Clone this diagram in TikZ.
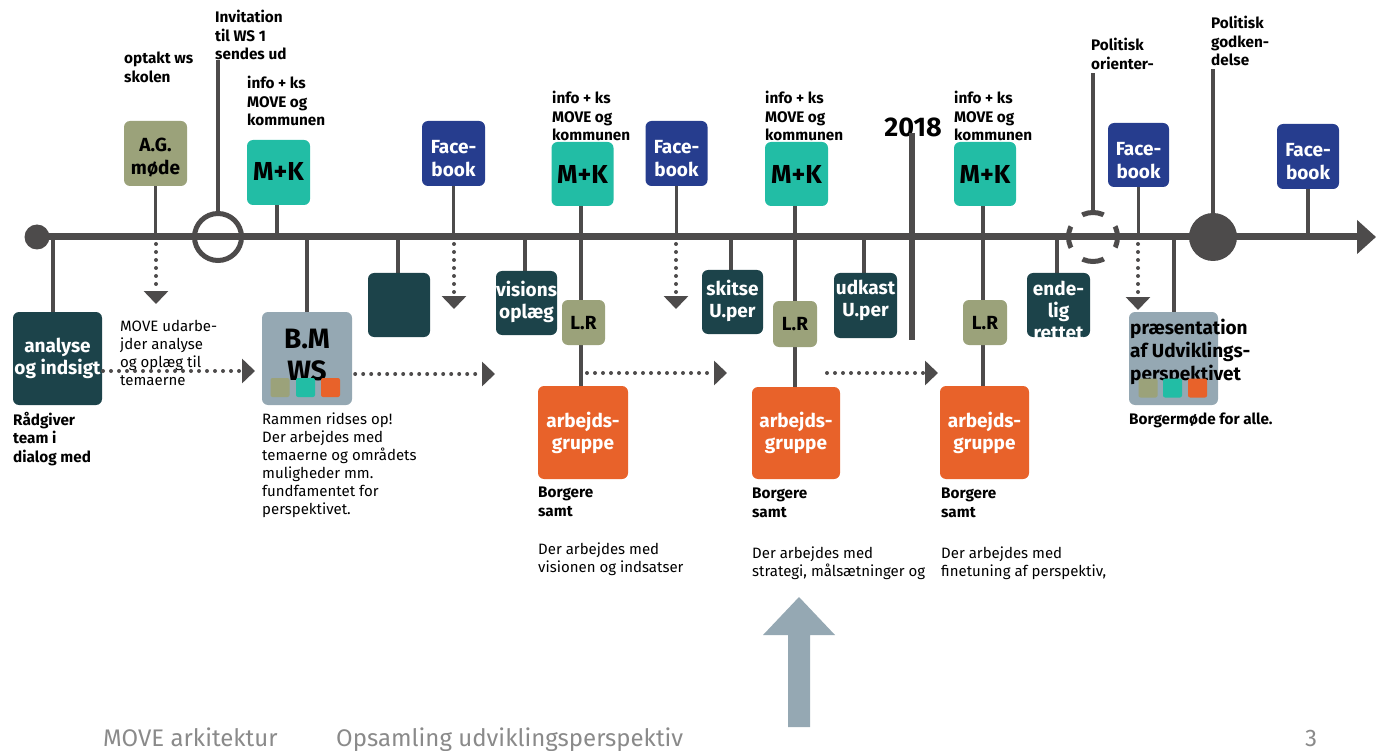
\documentclass[tikz,border=0pt]{standalone}
\usepackage{fontspec}
\setmainfont{Fira Sans}
\usetikzlibrary{arrows.meta}
\definecolor{lg}{HTML}{4D4B4B}
\definecolor{dteal}{HTML}{1C434A}
\definecolor{olive}{HTML}{9BA27A}
\definecolor{mteal}{HTML}{22BDA5}
\definecolor{navy}{HTML}{263D8E}
\definecolor{orng}{HTML}{E8622A}
\definecolor{gblue}{HTML}{95A8B3}
\definecolor{foot}{HTML}{8A8A8A}
\newcommand\myfs[2]{\fontsize{#1pt}{#2pt}\selectfont}
\pgfdeclarelayer{bg}
\pgfsetlayers{bg,main}
\begin{document}
\begin{tikzpicture}[x=1pt,y=-1pt,
  bx/.style 2 args={minimum width=#1pt, minimum height=#2pt, inner sep=0pt, rounded corners=6pt},
  lbl/.style={align=center, inner sep=0pt},
  txt/.style={anchor=north west, align=left, inner sep=0pt},
  conn/.style={draw=lg, line width=3.5pt},
  dotarrow/.style={draw=lg, line width=4pt, line cap=round, dash pattern=on 0pt off 8pt, -{Triangle[length=13pt,width=24pt]}},
  sq/.style={minimum width=19pt, minimum height=19pt, inner sep=0pt, rounded corners=2pt},
  small/.style={font=\myfs{15.3}{18.5}\bfseries},
  smallr/.style={font=\myfs{15}{18}},
  boxf/.style={font=\myfs{19}{23}\bfseries},
  mkf/.style={font=\myfs{26}{28}\bfseries},
  lrf/.style={font=\myfs{19}{22}\bfseries},
  wgf/.style={font=\myfs{19}{22}\bfseries, text=white},
  footf/.style={anchor=base west, inner sep=0pt, text=foot, font=\myfs{24}{28}}]
\useasboundingbox (0,0) rectangle (1386,751);

% ---- timeline markers
\node[circle, fill=lg, minimum size=25pt, inner sep=0pt] (st) at (37,237) {};
\coordinate (tend) at (1376,237);
\node[circle, draw=lg, line width=5pt, minimum size=47pt, inner sep=0pt] (inv) at (218,237) {};
\node[circle, draw=lg, line width=5pt, minimum size=49pt, inner sep=0pt, dash pattern=on 22pt off 16.5pt, dash phase=11pt] (dc) at (1093,237) {};
\node[circle, fill=lg, minimum size=48pt, inner sep=0pt] (bc) at (1213,237) {};

% ---- top texts
\node[txt, small] (invt) at (215,10) {Invitation\\til WS 1\\sendes ud};
\node[txt, small] (opt) at (124,52) {optakt ws\\skolen};
\node[txt, small] (inf1) at (247,76) {info + ks\\MOVE og\\kommunen};
\node[txt, small] (inf2) at (552,91) {info + ks\\MOVE og\\kommunen};
\node[txt, small] (inf3) at (765,91) {info + ks\\MOVE og\\kommunen};
\node[txt, small] (inf4) at (954,91) {info + ks\\MOVE og\\kommunen};
\node[txt, small] (pol1) at (1091,38) {Politisk\\orienter-};
\node[txt, small] (pol2) at (1211,16) {Politisk\\godken-\\delse};
\node[inner sep=0pt, font=\myfs{27}{30}\bfseries] (yr) at (913,127) {2018};
\coordinate (yrtop) at (912,133);
\coordinate (yrbot) at (912,340);

% ---- top boxes
\node[bx={63}{65}, fill=olive] (ag) at (155.5,153.5) {};
\node[lbl, boxf] (agl) at (155.5,157.5) {A.G.\\møde};
\node[bx={63}{65}, fill=mteal] (mk1) at (278.5,172.5) {};
\node[lbl, mkf] (mk1l) at (278.5,171.5) {M+K};
\node[bx={63}{65}, fill=navy] (fb1) at (453.5,153.5) {};
\node[lbl, boxf, text=white] (fb1l) at (453.5,159) {Face-\\book};
\node[bx={62}{64}, fill=mteal] (mk2) at (582.5,174) {};
\node[lbl, mkf] (mk2l) at (582.5,174.3) {M+K};
\node[bx={62}{65}, fill=navy] (fb2) at (676.5,153.5) {};
\node[lbl, boxf, text=white] (fb2l) at (676.5,159) {Face-\\book};
\node[bx={63}{64}, fill=mteal] (mk3) at (796.5,174) {};
\node[lbl, mkf] (mk3l) at (796.5,174.5) {M+K};
\node[bx={62}{64}, fill=mteal] (mk4) at (985,174) {};
\node[lbl, mkf] (mk4l) at (985,174.5) {M+K};
\node[bx={61}{64}, fill=navy] (fb3) at (1138.5,155) {};
\node[lbl, boxf, text=white] (fb3l) at (1138.5,160.5) {Face-\\book};
\node[bx={62}{65}, fill=navy] (fb4) at (1308,156.5) {};
\node[lbl, boxf, text=white] (fb4l) at (1308,162) {Face-\\book};

% ---- bottom boxes
\node[bx={89}{93}, fill=dteal] (an) at (57.5,358.5) {};
\node[lbl, font=\myfs{19}{22}\bfseries, text=white] (anl) at (57.5,358) {analyse\\og indsigt};
\node[bx={90}{93}, fill=gblue] (bm) at (307,358.5) {};
\node[lbl, font=\myfs{28}{32}\bfseries] (bml) at (307,355) {B.M\\WS};
\node[sq, fill=olive] (bms1) at (280,387.5) {};
\node[sq, fill=mteal] (bms2) at (305.5,387.5) {};
\node[sq, fill=orng] (bms3) at (330.5,387.5) {};
\node[bx={62}{64}, fill=dteal] (em) at (399,305) {};
\node[bx={61}{64}, fill=dteal] (vi) at (526.5,303) {};
\node[lbl, font=\myfs{19}{22}\bfseries, text=white] (vil) at (526.5,302) {visions\\oplæg};
\node[bx={43}{45}, fill=olive] (lr1) at (583.5,322.5) {};
\node[lbl, lrf] (lr1l) at (583.5,323) {L.R};
\node[bx={90}{93}, fill=orng] (wg1) at (583,432.5) {};
\node[lbl, wgf] (wg1l) at (583,432.5) {arbejds-\\gruppe};
\node[bx={61}{64}, fill=dteal] (sk) at (732.5,302) {};
\node[lbl, font=\myfs{19}{22}\bfseries, text=white] (skl) at (732.5,301) {skitse\\U.per};
\node[bx={44}{46}, fill=olive] (lr2) at (795,324) {};
\node[lbl, lrf] (lr2l) at (795,324) {L.R};
\node[bx={88}{92}, fill=orng] (wg2) at (796,433) {};
\node[lbl, wgf] (wg2l) at (796,433) {arbejds-\\gruppe};
\node[bx={63}{65}, fill=dteal] (ud) at (865.5,305.5) {};
\node[lbl, font=\myfs{19}{22}\bfseries, text=white] (udl) at (865.5,300) {udkast\\U.per};
\node[bx={44}{45}, fill=olive] (lr3) at (985,322.5) {};
\node[lbl, lrf] (lr3l) at (985,323) {L.R};
\node[bx={89}{93}, fill=orng] (wg3) at (984.5,432.5) {};
\node[lbl, wgf] (wg3l) at (984.5,432.5) {arbejds-\\gruppe};
\node[bx={63}{64}, fill=dteal] (en) at (1058.5,305) {};
\begin{scope}
  \clip[rounded corners=6pt] (1027,273) rectangle (1090,337);
  \node[lbl, anchor=north, font=\myfs{19}{22}\bfseries, text=white] (enl) at (1058.5,281) {ende-\\lig\\rettet};
\end{scope}
\node[bx={89}{93}, fill=gblue] (pr) at (1173.5,358.5) {};
\node[txt, font=\myfs{19}{23}\bfseries] (prl) at (1130,319) {præsentation\\af Udviklings-\\perspektivet};
\node[sq, fill=olive] (prs1) at (1148,388) {};
\node[sq, fill=mteal] (prs2) at (1172.5,388) {};
\node[sq, fill=orng] (prs3) at (1197.5,388) {};

% ---- bottom texts
\node[txt, smallr] (mud) at (120,320) {MOVE udarbe-\\jder analyse\\og oplæg til\\temaerne};
\node[txt, small] (rad) at (13,412) {Rådgiver\\team i\\dialog med};
\node[txt, smallr] (ram) at (262,413) {Rammen ridses op!\\Der arbejdes med\\temaerne og områdets\\muligheder mm.\\fundfamentet for\\perspektivet.};
\node[txt, small] (b1) at (538,487) {Borgere\\samt};
\node[txt, small] (b2) at (752,488) {Borgere\\samt};
\node[txt, small] (b3) at (941,488) {Borgere\\samt};
\node[txt, smallr] (d1) at (538,543) {Der arbejdes med\\visionen og indsatser};
\node[txt, smallr] (d2) at (752,547) {Der arbejdes med\\strategi, målsætninger og};
\node[txt, smallr] (d3) at (941,547) {Der arbejdes med\\finetuning af perspektiv,};
\node[txt, small] (bfa) at (1129,413) {Borgermøde for alle.};

% ---- footer
\node[footf] (f1) at (103,746) {MOVE arkitektur};
\node[footf] (f2) at (336,746) {Opsamling udviklingsperspektiv};
\node[footf] (f3) at (1305,746) {3};

% ---- big arrow
\fill[gblue] (799,597) -- (835,635) -- (810,635) -- (810,727) -- (788,727) -- (788,635) -- (763,635) -- cycle;

% ---- dotted arrows
\coordinate (da1) at (255,371);
\coordinate (da2) at (495,374);
\coordinate (da3s) at (587,373);
\coordinate (da3) at (727,373);
\coordinate (da4s) at (827,373);
\coordinate (da4) at (938,373);
\draw[dotarrow] (103,371) -- (da1);
\draw[dotarrow] (bm.east |- da2) ++(3,0) -- (da2);
\draw[dotarrow] (da3s) -- (da3);
\draw[dotarrow] (da4s) -- (da4);
\draw[dotarrow] (156,244) -- (156,304);
\draw[dotarrow] (454,244) -- (454,309);
\draw[dotarrow] (676,244) -- (676,309);
\draw[dotarrow] (1138,244) -- (1138,310);

\begin{pgfonlayer}{bg}
  \draw[lg, line width=7pt, -{Triangle[length=19pt,width=33pt]}] (st.center) -- (tend);
  % top connectors
  \draw[conn] (inv.north) -- (inv.north |- invt.south);
  \draw[conn] (dc.north) -- ([yshift=-3pt]dc.north |- pol1.south);
  \draw[conn] (bc.north) -- ([yshift=-3pt]bc.north |- pol2.south);
  \draw[conn] (ag.south) -- (ag.south |- tend);
  \draw[conn] (277,205) -- (277,237);
  \draw[conn] (fb1.south) -- (fb1.south |- tend);
  \draw[conn] (581,206) -- (581,386);
  \draw[conn] (fb2.south) -- (fb2.south |- tend);
  \draw[conn] (795,206) -- (795,387);
  \draw[conn] (983,206) -- (983,386);
  \draw[conn] (fb3.south) -- (fb3.south |- tend);
  \draw[conn] (fb4.south) -- (fb4.south |- tend);
  % bottom connectors
  \draw[conn] (53,237) -- (53,312);
  \draw[conn] (bm.north |- tend) -- (bm.north);
  \draw[conn] (398,237) -- (398,273);
  \draw[conn] (525,237) -- (525,271);
  \draw[conn] (731,237) -- (731,270);
  \draw[conn] (864,237) -- (864,273);
  \draw[conn] (1057,237) -- (1057,273);
  \draw[conn] (1174,237) -- (1174,312);
\end{pgfonlayer}
\draw[lg, line width=6pt] (yrtop) -- (yrbot);
\end{tikzpicture}
\end{document}
